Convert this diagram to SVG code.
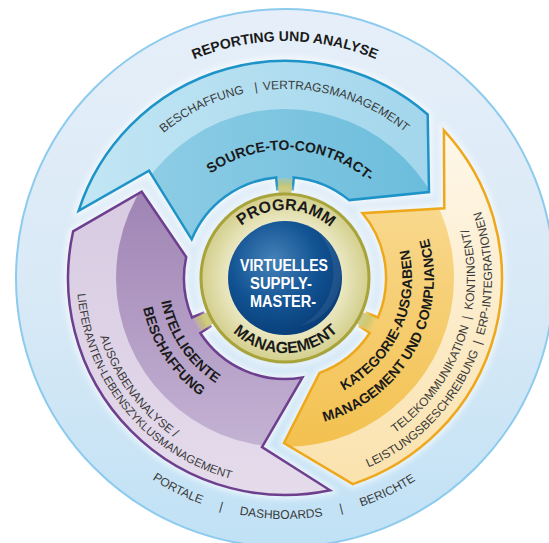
<svg xmlns="http://www.w3.org/2000/svg" xmlns:xlink="http://www.w3.org/1999/xlink" width="549" height="543" viewBox="0 0 549 543">
<style>
.b{font-family:"Liberation Sans",Arial,sans-serif;font-weight:bold;fill:#1a1a1a}
.r{font-family:"Liberation Sans",Arial,sans-serif;fill:#3a3a3a}
.w{font-family:"Liberation Sans",Arial,sans-serif;font-weight:bold;fill:#ffffff;text-anchor:middle}
.glow{fill:none;stroke:#ffffff;stroke-width:7;opacity:.75;filter:url(#blur)}
</style>
<defs>
<filter id="blur" x="-20%" y="-20%" width="140%" height="140%"><feGaussianBlur stdDeviation="3"/></filter>
<linearGradient id="bg" x1="0" y1="0" x2="0" y2="1"><stop offset="0" stop-color="#e6eff9"/><stop offset="0.55" stop-color="#d8e9f6"/><stop offset="1" stop-color="#c0e1f5"/></linearGradient>
<linearGradient id="blueOut" x1="0" y1="0" x2="1" y2="0"><stop offset="0" stop-color="#c2e6f4"/><stop offset="1" stop-color="#a3d6ec"/></linearGradient>
<linearGradient id="blueIn" x1="0" y1="0" x2="1" y2="0"><stop offset="0" stop-color="#96d0e7"/><stop offset="1" stop-color="#6bbddc"/></linearGradient>
<linearGradient id="purOut" x1="0" y1="0" x2="0" y2="1"><stop offset="0" stop-color="#d8cbe2"/><stop offset="1" stop-color="#e4dbeb"/></linearGradient>
<linearGradient id="purIn" x1="0" y1="0" x2="0" y2="1"><stop offset="0" stop-color="#9f84b4"/><stop offset="1" stop-color="#cbbbd9"/></linearGradient>
<linearGradient id="yelOut" x1="0" y1="0" x2="0" y2="1"><stop offset="0" stop-color="#fef7ea"/><stop offset="1" stop-color="#fae2ad"/></linearGradient>
<linearGradient id="yelIn" x1="0" y1="0" x2="0" y2="1"><stop offset="0" stop-color="#fae0a2"/><stop offset="1" stop-color="#f2bd45"/></linearGradient>
<radialGradient id="oliveG" gradientUnits="userSpaceOnUse" cx="285" cy="278" r="85"><stop offset="0.65" stop-color="#ece9c6"/><stop offset="1" stop-color="#d2ce8a"/></radialGradient>
<radialGradient id="navyG" cx="0.4" cy="0.35" r="0.7"><stop offset="0" stop-color="#4682b9"/><stop offset="0.55" stop-color="#125393"/><stop offset="1" stop-color="#083c76"/></radialGradient>
<radialGradient id="bridgeG" gradientUnits="userSpaceOnUse" cx="285" cy="278" r="104"><stop offset="0.8" stop-color="#aaa53b"/><stop offset="0.87" stop-color="#c2bd58"/><stop offset="1" stop-color="#d8d48a" stop-opacity="0"/></radialGradient>
<clipPath id="innerBand"><circle cx="285" cy="278" r="169"/></clipPath>
<path id="blueShape" d="M78.6,210.9 A217,217 0 0 1 427.7,114.5 L429,192 L349.2,200.1 A101,101 0 0 0 293.8,177.4 L292.8,189.3 A89,89 0 0 0 277.2,189.3 L276.2,177.4 A101,101 0 0 0 191.7,239.3 L149,170.7 Z"/>
<path id="yelShape" d="M443.9,130.3 A217,217 0 0 1 352.8,484.1 L284,443 L319.5,372.9 A101,101 0 0 0 369.7,333 L359.6,326.5 A89,89 0 0 0 366.9,312.8 L378,317.5 A101,101 0 0 0 362.5,213.2 L444.3,208.3 Z"/>
<path id="purShape" d="M330.1,490.3 A217,217 0 0 1 73.1,231.4 L141.7,191.7 L186.2,257 A101,101 0 0 0 192,317.5 L203.1,312.8 A89,89 0 0 0 210.4,326.5 L200.3,333 A101,101 0 0 0 302.5,377.5 L262,447 Z"/>
<path id="p-rep" d="M79.8,159.5 A237,237 0 0 1 490.2,159.5"/>
<path id="p-stc2" d="M121.3,183.5 A189,189 0 0 1 448.7,183.5"/>
<path id="p-stc" d="M174.1,214 A128,128 0 0 1 395.9,214"/>
<path id="p-prog" d="M217,278 A68,68 0 0 1 353,278"/>
<path id="p-mgmt" d="M210,278 A75,75 0 0 0 360,278"/>
<path id="p-ib1" d="M175.9,215 A126,126 0 0 0 285,404"/>
<path id="p-ib2" d="M159.4,205.5 A145,145 0 0 0 285,423"/>
<path id="p-ib3" d="M117,181 A194,194 0 0 0 285,472"/>
<path id="p-ib4" d="M104.9,174 A208,208 0 0 0 285,486"/>
<path id="p-k1" d="M285,405 A127,127 0 0 0 395,214.5"/>
<path id="p-k2" d="M285,427 A149,149 0 0 0 414,203.5"/>
<path id="p-k3" d="M285,468 A190,190 0 0 0 449.5,183"/>
<path id="p-k4" d="M285,485 A207,207 0 0 0 464.3,174.5"/>
<path id="p-bot" d="M76.3,398.5 A241,241 0 0 0 493.7,398.5"/>
</defs>

<g id="reporting-und-analyse">
<circle cx="285" cy="278" r="269" fill="url(#bg)" stroke="#8ccbee" stroke-width="2"/>
<text class="b" font-size="14" text-anchor="middle"><textPath href="#p-rep" startOffset="50%">REPORTING UND ANALYSE</textPath></text>
<text class="r" font-size="12" text-anchor="middle"><textPath href="#p-bot" startOffset="27.6%">PORTALE</textPath></text>
<text class="r" font-size="12" text-anchor="middle"><textPath href="#p-bot" startOffset="37%">|</textPath></text>
<text class="r" font-size="12" text-anchor="middle"><textPath href="#p-bot" startOffset="49.2%">DASHBOARDS</textPath></text>
<text class="r" font-size="12" text-anchor="middle"><textPath href="#p-bot" startOffset="61.4%">|</textPath></text>
<text class="r" font-size="12" text-anchor="middle"><textPath href="#p-bot" startOffset="71.4%">BERICHTE</textPath></text>
</g>

<g id="source-to-contract">
<use href="#blueShape" class="glow"/>
<use href="#blueShape" fill="url(#blueOut)"/>
<use href="#blueShape" fill="url(#blueIn)" clip-path="url(#innerBand)"/>
<use href="#blueShape" fill="none" stroke="#1d93c8" stroke-width="2.5" stroke-linejoin="miter"/>
<text class="r" font-size="12" text-anchor="middle"><textPath href="#p-stc2" startOffset="28.2%">BESCHAFFUNG</textPath></text>
<text class="r" font-size="12" text-anchor="middle"><textPath href="#p-stc2" startOffset="42.75%">|</textPath></text>
<text class="r" font-size="12" text-anchor="middle"><textPath href="#p-stc2" startOffset="63.7%">VERTRAGSMANAGEMENT</textPath></text>
<text class="b" font-size="14" text-anchor="middle"><textPath href="#p-stc" startOffset="52.3%">SOURCE-TO-CONTRACT-</textPath></text>
</g>

<g id="kategorie-ausgaben">
<use href="#yelShape" class="glow"/>
<use href="#yelShape" fill="url(#yelOut)"/>
<use href="#yelShape" fill="url(#yelIn)" clip-path="url(#innerBand)"/>
<use href="#yelShape" fill="none" stroke="#eea81c" stroke-width="2.5"/>
<text class="b" font-size="14" text-anchor="middle"><textPath href="#p-k1" startOffset="54.4%">KATEGORIE-AUSGABEN</textPath></text>
<text class="b" font-size="14" text-anchor="middle"><textPath href="#p-k2" startOffset="50.3%">MANAGEMENT UND COMPLIANCE</textPath></text>
<text class="r" font-size="12" text-anchor="middle"><textPath href="#p-k3" startOffset="58.5%">TELEKOMMUNIKATION&#160; |&#160; KONTINGENT/</textPath></text>
<text class="r" font-size="12" text-anchor="middle"><textPath href="#p-k4" startOffset="55.25%">LEISTUNGSBESCHREIBUNG&#160; |&#160; ERP-INTEGRATIONEN</textPath></text>
</g>

<g id="intelligente-beschaffung">
<use href="#purShape" class="glow"/>
<use href="#purShape" fill="url(#purOut)"/>
<use href="#purShape" fill="url(#purIn)" clip-path="url(#innerBand)"/>
<use href="#purShape" fill="none" stroke="#6e3f8e" stroke-width="2.5"/>
<text class="b" font-size="14" text-anchor="middle"><textPath href="#p-ib1" startOffset="53.1%">INTELLIGENTE</textPath></text>
<text class="b" font-size="14" text-anchor="middle"><textPath href="#p-ib2" startOffset="52.6%">BESCHAFFUNG</textPath></text>
<text class="r" font-size="12" text-anchor="middle"><textPath href="#p-ib3" startOffset="55.4%">AUSGABENANALYSE /</textPath></text>
<text class="r" font-size="11.5" text-anchor="middle"><textPath href="#p-ib4" startOffset="58%">LIEFERANTEN-LEBENSZYKLUSMANAGEMENT</textPath></text>
</g>

<g id="connectors">
<path d="M279,198.2 L277.5,178.3 A100,100 0 0 1 292.5,178.3 L291,198.2 A80,80 0 0 0 279,198.2 Z" fill="url(#bridgeG)"/>
<path d="M358.3,310.2 L376.6,318.2 A100,100 0 0 1 369.5,331.4 L352.6,320.8 A80,80 0 0 0 358.3,310.2 Z" fill="url(#bridgeG)"/>
<path d="M217.4,320.8 L200.5,331.4 A100,100 0 0 1 193.4,318.2 L211.7,310.2 A80,80 0 0 0 217.4,320.8 Z" fill="url(#bridgeG)"/>
</g>

<g id="programm-management">
<circle cx="285" cy="278" r="87" fill="none" stroke="#ffffff" stroke-width="5" opacity=".6" filter="url(#blur)"/>
<circle cx="285" cy="278" r="84" fill="url(#oliveG)" stroke="#a8a33a" stroke-width="3"/>
<text class="b" font-size="16" text-anchor="middle"><textPath href="#p-prog" startOffset="50.5%">PROGRAMM</textPath></text>
<text class="b" font-size="16" text-anchor="middle"><textPath href="#p-mgmt" startOffset="50.3%">MANAGEMENT</textPath></text>
</g>

<g id="virtuelles-supply-master">
<circle cx="285" cy="278" r="57" fill="url(#navyG)"/>
<path d="M318,232 A52,52 0 0 1 300,326 A60,60 0 0 0 318,232 Z" fill="#ffffff" opacity=".08"/>
<text class="w" x="284" y="271" font-size="16" textLength="88" lengthAdjust="spacingAndGlyphs">VIRTUELLES</text>
<text class="w" x="281" y="289" font-size="16" textLength="62" lengthAdjust="spacingAndGlyphs">SUPPLY-</text>
<text class="w" x="283" y="307" font-size="16" textLength="66" lengthAdjust="spacingAndGlyphs">MASTER-</text>
</g>
</svg>
